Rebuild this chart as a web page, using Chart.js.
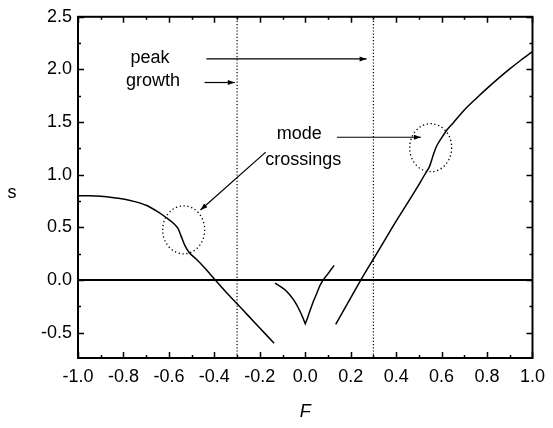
<!DOCTYPE html>
<html>
<head>
<meta charset="utf-8">
<script src="https://cdn.jsdelivr.net/npm/chart.js@4.4.1/dist/chart.umd.min.js"></script>
<style>
  body { margin: 0; background: #fff; }
  canvas { display: block; }
</style>
</head>
<body>
<canvas id="growth" width="553" height="428"></canvas>
<script>
// left branch: flat near 0.8, kink at the mode crossing, then falls through zero
const leftF = [-1.0, -0.95, -0.9, -0.85, -0.8, -0.75, -0.7, -0.65, -0.61, -0.58, -0.56, -0.545, -0.53, -0.51, -0.48, -0.44, -0.40, -0.35, -0.30, -0.25, -0.20, -0.137];
const leftS = [0.80, 0.80, 0.795, 0.785, 0.77, 0.745, 0.71, 0.65, 0.59, 0.54, 0.49, 0.41, 0.33, 0.26, 0.20, 0.11, 0.01, -0.11, -0.225, -0.34, -0.455, -0.60];

// cusp around F = 0
const midF = [-0.133, -0.11, -0.09, -0.07, -0.05, -0.035, -0.02, -0.01, 0.0, 0.01, 0.02, 0.035, 0.05, 0.065, 0.078, 0.1, 0.127];
const midS = [-0.03, -0.06, -0.09, -0.135, -0.19, -0.245, -0.31, -0.36, -0.415, -0.36, -0.295, -0.205, -0.13, -0.05, 0.0, 0.06, 0.14];

// right branch: steep rise, second mode crossing near F = 0.55
const rightF = [0.134, 0.2, 0.25, 0.3, 0.35, 0.4, 0.45, 0.49, 0.52, 0.545, 0.555, 0.565, 0.58, 0.6, 0.625, 0.65, 0.7, 0.75, 0.8, 0.85, 0.9, 0.95, 1.0];
const rightS = [-0.42, -0.17, 0.02, 0.2, 0.38, 0.56, 0.73, 0.87, 0.98, 1.07, 1.13, 1.2, 1.28, 1.35, 1.43, 1.49, 1.615, 1.72, 1.82, 1.915, 2.005, 2.09, 2.17];

// F of peak growth (dotted verticals) and centres of the mode crossings
const peakGrowth = [-0.3, 0.3];
const crossingF = [-0.535, 0.552];
const crossingS = [0.477, 1.257];

const xTicks = [-1.0, -0.8, -0.6, -0.4, -0.2, 0.0, 0.2, 0.4, 0.6, 0.8, 1.0];
const yTicks = [-0.5, 0.0, 0.5, 1.0, 1.5, 2.0, 2.5];
const xRange = [-1.0, 1.0];
const yRange = [-0.74, 2.5];

const FONT = "'Liberation Sans', Arial, Helvetica, sans-serif";
Chart.defaults.font.family = FONT;
Chart.defaults.font.size = 18;
Chart.defaults.color = '#000';

const pts = (xs, ys) => xs.map((x, i) => ({ x: x, y: ys[i] }));

function curve(xs, ys, tension) {
    return {
        data: pts(xs, ys),
        showLine: true,
        borderColor: '#000',
        borderWidth: 1.5,
        pointRadius: 0,
        tension: tension
    };
}

const datasets = [
    curve(leftF, leftS, 0.3),
    curve(midF, midS, 0),
    curve(rightF, rightS, 0.3),
    // s = 0 reference line
    { data: pts(xRange, [0, 0]), showLine: true, borderColor: '#000', borderWidth: 2, pointRadius: 0 }
];
peakGrowth.forEach(f => {
    datasets.push({
        data: pts([f, f], yRange),
        showLine: true,
        borderColor: '#000',
        borderWidth: 1.2,
        borderDash: [1.2, 2],
        pointRadius: 0
    });
});

function arrow(ctx, x1, y1, x2, y2) {
    ctx.beginPath();
    ctx.moveTo(x1, y1);
    ctx.lineTo(x2, y2);
    ctx.stroke();
    const a = Math.atan2(y2 - y1, x2 - x1);
    const L = 7, W = 2.5;
    ctx.beginPath();
    ctx.moveTo(x2, y2);
    ctx.lineTo(x2 - L * Math.cos(a) + W * Math.sin(a), y2 - L * Math.sin(a) - W * Math.cos(a));
    ctx.lineTo(x2 - L * Math.cos(a) - W * Math.sin(a), y2 - L * Math.sin(a) + W * Math.cos(a));
    ctx.closePath();
    ctx.fill();
}

// frame, inward ticks on all sides, dotted circles, notes and axis titles
const decor = {
    id: 'decor',
    afterDraw(chart) {
        const ctx = chart.ctx;
        const a = chart.chartArea;
        const xs = chart.scales.x, ys = chart.scales.y;
        ctx.save();
        ctx.strokeStyle = '#000';
        ctx.fillStyle = '#000';

        ctx.lineWidth = 2;
        ctx.strokeRect(a.left, a.top, a.right - a.left, a.bottom - a.top);

        ctx.lineWidth = 1.5;
        ctx.beginPath();
        for (let v = -1.0; v <= 1.0001; v += 0.1) {
            const px = Math.round(xs.getPixelForValue(v)) + 0.5;
            const len = Math.abs(Math.round(v * 10)) % 2 === 0 ? 6 : 3;
            ctx.moveTo(px, a.bottom); ctx.lineTo(px, a.bottom - len);
            ctx.moveTo(px, a.top); ctx.lineTo(px, a.top + len);
        }
        for (let v = -0.5; v <= 2.5001; v += 0.25) {
            const py = Math.round(ys.getPixelForValue(v)) + 0.5;
            const len = Math.round(v * 4) % 2 === 0 ? 6 : 3;
            ctx.moveTo(a.left, py); ctx.lineTo(a.left + len, py);
            ctx.moveTo(a.right, py); ctx.lineTo(a.right - len, py);
        }
        ctx.stroke();

        // dotted circles round the mode crossings
        ctx.lineWidth = 1.3;
        ctx.setLineDash([1.3, 2.6]);
        crossingF.forEach((f, i) => {
            ctx.beginPath();
            ctx.ellipse(xs.getPixelForValue(f), ys.getPixelForValue(crossingS[i]), 21, 24, 0, 0, Math.PI * 2);
            ctx.stroke();
        });
        ctx.setLineDash([]);

        const X = v => xs.getPixelForValue(v);
        const Y = v => ys.getPixelForValue(v);

        ctx.font = '18px ' + FONT;
        ctx.textAlign = 'center';
        ctx.textBaseline = 'middle';
        ctx.fillText('peak', X(-0.683), Y(2.11));
        ctx.fillText('growth', X(-0.67), Y(1.886));
        ctx.fillText('mode', X(-0.026), Y(1.385));
        ctx.fillText('crossings', X(-0.009), Y(1.137));

        ctx.lineWidth = 1.2;
        arrow(ctx, X(-0.435), Y(2.10), X(0.27), Y(2.10));
        arrow(ctx, X(-0.443), Y(1.876), X(-0.31), Y(1.876));
        arrow(ctx, X(0.139), Y(1.356), X(0.509), Y(1.356));
        arrow(ctx, X(-0.174), Y(1.215), X(-0.461), Y(0.666));

        // axis titles
        ctx.fillText('s', 12, Y(0.83));
        ctx.font = 'italic 18px ' + FONT;
        ctx.fillText('F', X(0), 412);
        ctx.restore();
    }
};

const ctx = document.getElementById('growth').getContext('2d');
const growthChart = new Chart(ctx, {
    type: 'scatter',
    data: { datasets: datasets },
    options: {
        responsive: false,
        animation: false,
        devicePixelRatio: 1,
        layout: { padding: { top: 16, right: 15, left: 0, bottom: 0 } },
        plugins: { legend: { display: false }, tooltip: { enabled: false } },
        scales: {
            x: {
                type: 'linear',
                min: xRange[0], max: xRange[1],
                grid: { display: false, drawTicks: false, tickLength: 0 },
                border: { display: false },
                afterBuildTicks: s => { s.ticks = xTicks.map(v => ({ value: v })); },
                afterFit: s => { s.height = 70; },
                ticks: { padding: 8, maxRotation: 0, autoSkip: false, callback: v => v.toFixed(1) }
            },
            y: {
                type: 'linear',
                min: yRange[0], max: yRange[1],
                grid: { display: false, drawTicks: false, tickLength: 0 },
                border: { display: false },
                afterBuildTicks: s => { s.ticks = yTicks.map(v => ({ value: v })); },
                afterFit: s => { s.width = 78; },
                ticks: { padding: 6, autoSkip: false, callback: v => v.toFixed(1) }
            }
        }
    },
    plugins: [decor]
});
</script>
</body>
</html>
